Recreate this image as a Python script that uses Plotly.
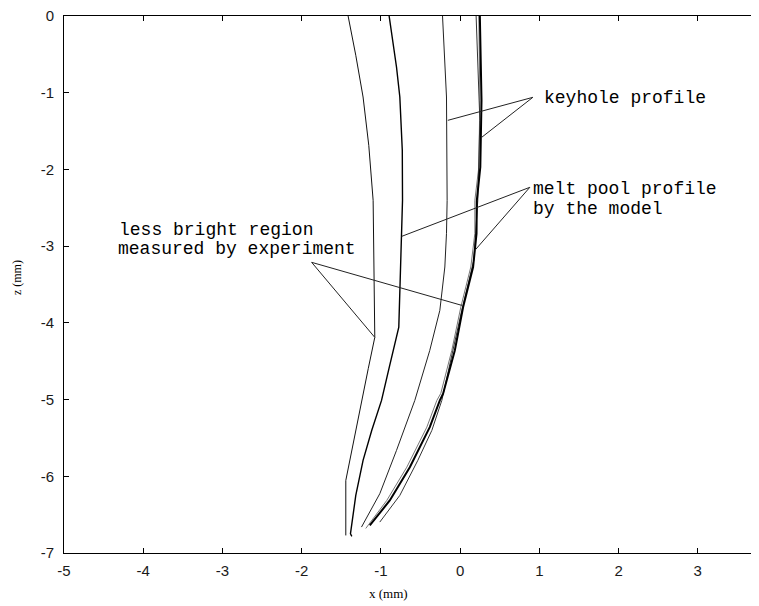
import plotly.graph_objects as go

# ---- data (x in mm, z in mm) ----
c1_x = [-1.414, -1.317, -1.225, -1.153, -1.098, -1.083, -1.077, -1.159, -1.241, -1.443, -1.443]
c1_z = [0.0, -0.512, -1.056, -1.686, -2.403, -3.316, -4.189, -4.593, -5.011, -6.054, -6.771]

c2_x = [-0.896, -0.803, -0.761, -0.730, -0.727, -0.740, -0.761, -0.774, -0.888, -0.992, -1.115, -1.225, -1.317, -1.371, -1.384, -1.367]
c2_z = [0.0, -0.665, -1.056, -1.751, -2.403, -2.872, -3.533, -4.055, -4.550, -5.011, -5.400, -5.793, -6.249, -6.662, -6.749, -6.784]

c3_x = [-0.222, -0.172, -0.164, -0.172, -0.193, -0.256, -0.383, -0.572, -0.803, -1.014, -1.245]
c3_z = [0.0, -1.056, -2.403, -2.833, -3.272, -3.837, -4.359, -5.011, -5.662, -6.227, -6.662]

c4a_x = [0.249, 0.270, 0.255, 0.211, 0.207, 0.164, 0.038, -0.067, -0.215, -0.256, -0.383, -0.635, -0.888, -1.140]
c4a_z = [0.0, -1.099, -1.969, -2.403, -2.837, -3.272, -3.794, -4.359, -4.924, -5.011, -5.359, -5.881, -6.315, -6.641]

c4b_x = [0.202, 0.223, 0.249, 0.223, 0.173, 0.021, -0.105, -0.231, -0.357, -0.534, -0.761, -1.014]
c4b_z = [0.0, -0.578, -1.360, -2.403, -3.185, -3.837, -4.424, -5.011, -5.402, -5.793, -6.249, -6.597]

c4c_x = [0.236, 0.249, 0.236, 0.186, 0.186, 0.135, 0.009, -0.105, -0.244, -0.294, -0.420, -0.673, -0.926, -1.191]
c4c_z = [0.0, -1.099, -1.969, -2.403, -2.833, -3.272, -3.794, -4.359, -4.919, -5.011, -5.359, -5.881, -6.315, -6.680]

# leader lines: [start, end1, gap, start, end2]
kh_x = [0.918, -0.155, None, 0.918, 0.274]
kh_z = [-1.06, -1.36, None, -1.06, -1.58]
mp_x = [0.880, -0.736, None, 0.880, 0.186]
mp_z = [-2.233, -2.872, None, -2.233, -3.055]
lb_x = [-1.874, -1.077, None, -1.874, 0.021]
lb_z = [-3.211, -4.189, None, -3.211, -3.772]

labels = ["keyhole profile", "melt pool profile", "by the model",
          "less bright region", "measured by experiment"]
label_x = [1.030, 0.890, 0.890, -4.330, -4.340]
label_z = [-1.073, -2.250, -2.511, -2.785, -3.033]

x_ticks = [-5, -4, -3, -2, -1, 0, 1, 2, 3]
z_ticks = [0, -1, -2, -3, -4, -5, -6, -7]

fig = go.Figure()

def add_line(x, y, color="black", width=1.0):
    fig.add_trace(go.Scatter(x=x, y=y, mode="lines",
                             line=dict(color=color, width=width),
                             showlegend=False, hoverinfo="skip"))

add_line(c1_x, c1_z, "#111111", 1.0)
add_line(c2_x, c2_z, "#000000", 1.4)
add_line(c3_x, c3_z, "#222222", 1.0)
add_line(c4c_x, c4c_z, "#777777", 1.0)
add_line(c4b_x, c4b_z, "#333333", 1.0)
add_line(c4a_x, c4a_z, "#000000", 2.0)
add_line(kh_x, kh_z, "#222222", 1.0)
add_line(mp_x, mp_z, "#222222", 1.0)
add_line(lb_x, lb_z, "#222222", 1.0)

for t, lx, lz in zip(labels, label_x, label_z):
    fig.add_annotation(x=lx, y=lz, xref="x", yref="y", text=t, showarrow=False,
                       xanchor="left", yanchor="middle",
                       font=dict(family="Liberation Mono", size=18, color="black"))

fig.add_annotation(x=0.468, y=-0.0745, xref="paper", yref="paper", text="x (mm)",
                   showarrow=False, xanchor="center", yanchor="middle",
                   font=dict(family="Liberation Serif", size=13, color="black"))
fig.add_annotation(x=-0.0677, y=0.512, xref="paper", yref="paper", text="z (mm)",
                   showarrow=False, textangle=-90, xanchor="center", yanchor="middle",
                   font=dict(family="Liberation Serif", size=12, color="black"))

axis_common = dict(showgrid=False, zeroline=False, showline=True, mirror="ticks",
                   linecolor="black", linewidth=1, ticks="inside", ticklen=5,
                   tickcolor="black", tickwidth=1, automargin=False,
                   ticklabeloverflow="allow",
                   tickfont=dict(family="Liberation Sans", size=15, color="#1a1a1a"))

fig.update_xaxes(range=[-5, 3.76], tickvals=x_ticks, ticktext=[str(v) for v in x_ticks],
                 ticklabelstandoff=4, **axis_common)
fig.update_yaxes(range=[-7, 0], tickvals=z_ticks, ticktext=[str(v) for v in z_ticks],
                 ticklabelstandoff=6, **axis_common)

# page body has an 8px margin; size the figure so it fills the 759x606 window
fig.update_layout(width=751, height=598, margin=dict(l=56, r=1, t=8, b=53),
                  plot_bgcolor="white", paper_bgcolor="white")

fig.write_html("out.html")
